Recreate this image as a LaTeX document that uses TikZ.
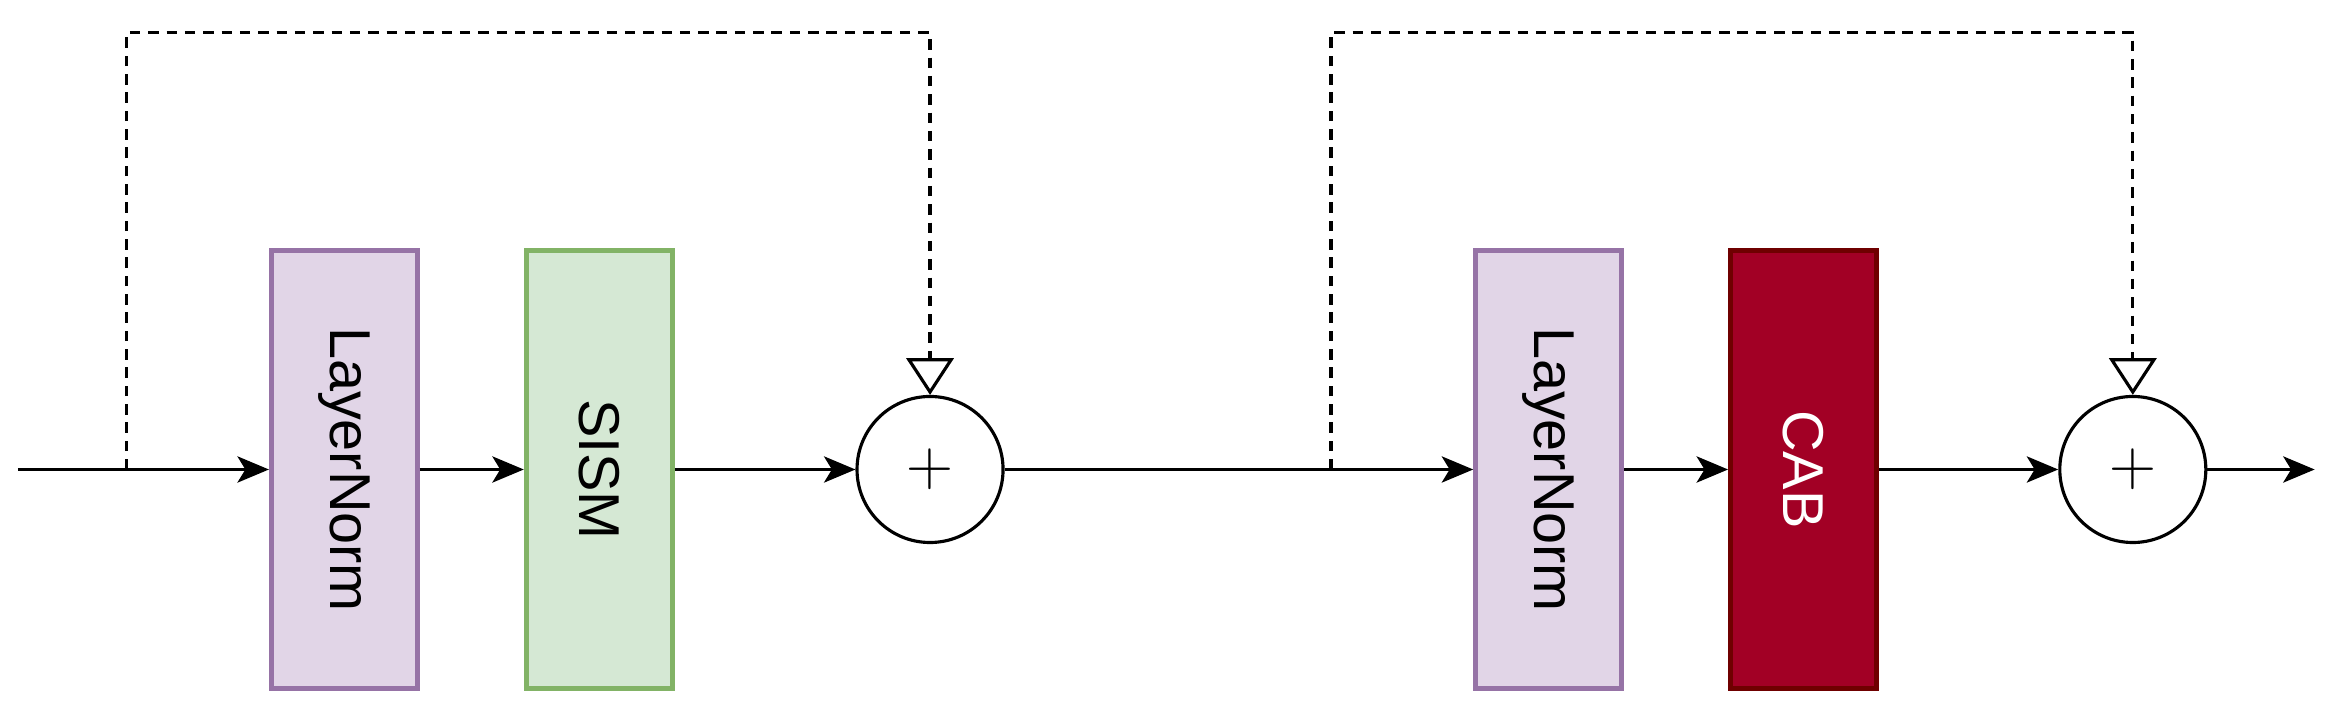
\documentclass[tikz,border=0pt]{standalone}
\usepackage{fontspec}
\setmainfont{Liberation Sans}
\usetikzlibrary{arrows.meta}
\definecolor{lnF}{HTML}{E1D5E7}\definecolor{lnD}{HTML}{9673A6}
\definecolor{smF}{HTML}{D5E8D4}\definecolor{smD}{HTML}{82B366}
\definecolor{cbF}{HTML}{A20025}\definecolor{cbD}{HTML}{6F0000}
\begin{document}
\begin{tikzpicture}[x=0.02cm,y=-0.02cm,
 box/.style={draw,line width=1.8pt,minimum width=1.96cm,minimum height=5.88cm,inner sep=0pt},
 lbl/.style={rotate=-90,font=\fontsize{22}{24}\selectfont},
 plus/.style={draw,circle,line width=1.2pt,minimum size=1.96cm,inner sep=0pt,font=\fontsize{40}{40}\selectfont},
 arr/.style={line width=1.2pt,-{Stealth[length=12pt,width=10pt,inset=3pt]}},
 dsh/.style={line width=1.2pt,dash pattern=on 4pt off 3pt,-{Triangle[open,length=14pt,width=18pt]}}]
\useasboundingbox (0,0) rectangle (1568,480);
\node[box,fill=lnF,draw=lnD] (ln1) at (231,315) {\rotatebox{-90}{\fontsize{22}{24}\selectfont LayerNorm}};
\node[box,fill=smF,draw=smD] (sism) at (402,315) {\rotatebox{-90}{\fontsize{22}{24}\selectfont SISM}};
\node[plus] (p1) at (624,315) {$+$};
\node[box,fill=lnF,draw=lnD] (ln2) at (1039,315) {\rotatebox{-90}{\fontsize{22}{24}\selectfont LayerNorm}};
\node[box,fill=cbF,draw=cbD] (cab) at (1210,315) {\rotatebox{-90}{\color{white}\fontsize{22}{24}\selectfont CAB}};
\node[plus] (p2) at (1431,315) {$+$};
\coordinate (in) at (12,315);
\coordinate (out) at (1553,315);
\coordinate (s1) at (85,315);
\coordinate (s2) at (893,315);
\draw[arr] (in) -- (ln1);
\draw[arr] (ln1) -- (sism);
\draw[arr] (sism) -- (p1);
\draw[arr] (p1) -- (ln2);
\draw[arr] (ln2) -- (cab);
\draw[arr] (cab) -- (p2);
\draw[arr] (p2) -- (out);
\draw[dsh] (s1) -- (85,22) -- (624,22) -- (p1);
\draw[dsh] (s2) -- (893,22) -- (1431,22) -- (p2);
\end{tikzpicture}
\end{document}
